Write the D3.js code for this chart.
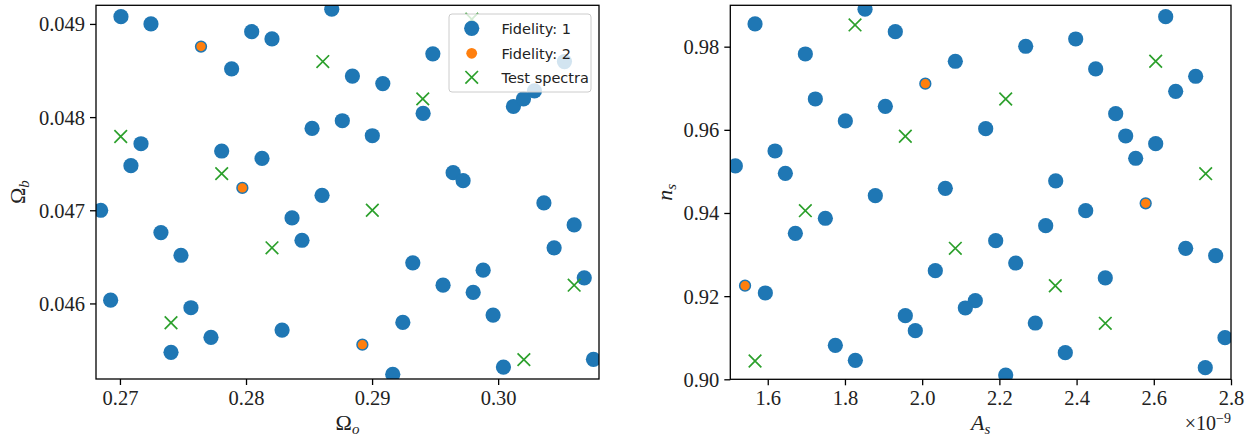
<!DOCTYPE html>
<html><head><meta charset="utf-8">
<script src="https://cdn.jsdelivr.net/npm/d3@7"></script>
<style>body{margin:0;background:#fff}svg{display:block}</style>
</head><body>
<svg id="c" width="1255" height="439"></svg>
<script>
// ---- Left panel data (Omega_o, Omega_b) ----
const leftFid1X = [0.27008,0.27246,0.28045,0.28206,0.27886,0.28680,0.28844,0.29085,0.29482,0.29405,0.28524,0.28764,0.29002,0.30121,0.30201,0.30288,0.30526,0.29643,0.29722,0.28603,0.30363,0.30603,0.27167,0.27087,0.27807,0.28127,0.26847,0.28365,0.27325,0.27484,0.28444,0.26926,0.27563,0.27722,0.27405,0.28286,0.29323,0.29563,0.29802,0.29881,0.29960,0.29244,0.29164,0.30042,0.30444,0.30683,0.30756];
const leftFid1Y = [0.049078,0.049000,0.048917,0.048839,0.048518,0.049158,0.048440,0.048360,0.048679,0.048039,0.047878,0.047961,0.047800,0.048114,0.048196,0.048282,0.048596,0.047404,0.047318,0.047160,0.047079,0.046843,0.047714,0.047479,0.047636,0.047557,0.047000,0.046918,0.046761,0.046517,0.046678,0.046035,0.045954,0.045636,0.045475,0.045714,0.046436,0.046196,0.046118,0.046357,0.045875,0.045796,0.045239,0.045317,0.046597,0.046275,0.045400];
const leftFid2X = [0.27643,0.27971,0.28923];
const leftFid2Y = [0.048757,0.047240,0.045557];
const leftTestX = [0.28609,0.29402,0.27006,0.27807,0.29002,0.28206,0.27405,0.30204,0.30603,0.29791];
const leftTestY = [0.048596,0.048196,0.047792,0.047393,0.047000,0.046597,0.045793,0.045397,0.046196,0.049050];
const leftXTicks = [0.27,0.28,0.29,0.30];
const leftYTicks = [0.046,0.047,0.048,0.049];
const leftXDomain = [0.2681,0.3080];
const leftYDomain = [0.045189,0.04920];

// ---- Right panel data (A_s [1e-9], n_s) ----
const rightFid1X = [1.5671,1.8520,1.9305,1.6974,1.7233,1.9046,1.8010,1.6189,1.5161,1.6456,1.8787,1.7492,2.0600,2.6308,2.3977,2.2682,2.0859,2.4495,2.7085,2.6567,2.5013,2.1646,2.5272,2.6049,2.5531,2.3459,2.4236,2.3200,1.6715,1.5938,2.0341,1.9564,1.9823,1.7751,1.8269,2.1905,2.2423,2.1377,2.1118,2.4744,2.2931,2.3708,2.2164,2.6826,2.7603,2.7844,2.7334];
const rightFid1Y = [0.98546,0.98900,0.98361,0.97824,0.96742,0.96566,0.96213,0.95491,0.95131,0.94955,0.94416,0.93873,0.94594,0.98722,0.98185,0.98010,0.97649,0.97464,0.97288,0.96927,0.96388,0.96028,0.95852,0.95667,0.95316,0.94770,0.94055,0.93695,0.93512,0.92076,0.92612,0.91530,0.91169,0.90818,0.90457,0.93334,0.92797,0.91890,0.91715,0.92437,0.91354,0.90640,0.90103,0.93151,0.92973,0.91001,0.90279];
const rightFid2X = [2.0082,1.5412,2.5790];
const rightFid2Y = [0.97110,0.92251,0.94233];
const rightTestX = [1.8261,1.9564,1.6974,2.6049,2.2164,2.7344,1.5671,2.0859,2.3449,2.4744];
const rightTestY = [0.98522,0.95845,0.94055,0.97649,0.96742,0.94945,0.90440,0.93151,0.92250,0.91347];
const rightXTicks = [1.6,1.8,2.0,2.2,2.4,2.6,2.8];
const rightYTicks = [0.90,0.92,0.94,0.96,0.98];
const rightXDomain = [1.503,2.8];
const rightYDomain = [0.90,0.98995];

const legendLabels = ["Fidelity: 1","Fidelity: 2","Test spectra"];
const C1 = "#1f77b4", C2 = "#ff7f0e", C3 = "#2ca02c";
const SERIF = "Liberation Serif";
const SANS = "DejaVu Sans";

const svg = d3.select("#c");

function xMark(g, cx, cy, h, color, sw){
  g.append("path").attr("d",`M${cx-h},${cy-h}L${cx+h},${cy+h}M${cx-h},${cy+h}L${cx+h},${cy-h}`)
   .attr("stroke",color).attr("stroke-width",sw).attr("fill","none");
}

function panel(o){
  const g = svg.append("g");
  const x = d3.scaleLinear().domain(o.xd).range([o.l,o.r]);
  const y = d3.scaleLinear().domain(o.yd).range([o.b,o.t]);
  const cid = "clip"+o.id;
  svg.append("clipPath").attr("id",cid).append("rect")
    .attr("x",o.l).attr("y",o.t).attr("width",o.r-o.l).attr("height",o.b-o.t);
  const pg = g.append("g").attr("clip-path",`url(#${cid})`);
  o.f1x.forEach((v,i)=>pg.append("circle").attr("cx",x(v)).attr("cy",y(o.f1y[i])).attr("r",7.6).attr("fill",C1));
  o.f2x.forEach((v,i)=>pg.append("circle").attr("cx",x(v)).attr("cy",y(o.f2y[i])).attr("r",5.4).attr("fill",C2).attr("stroke",C1).attr("stroke-width",1.5));
  o.tx.forEach((v,i)=>xMark(pg,x(v),y(o.ty[i]),6.3,C3,1.7));

  const xa = g.append("g").attr("transform",`translate(0,${o.b})`)
    .call(d3.axisBottom(x).tickValues(o.xt).tickSize(6).tickPadding(5).tickFormat(o.xf));
  const ya = g.append("g").attr("transform",`translate(${o.l},0)`)
    .call(d3.axisLeft(y).tickValues(o.yt).tickSize(6).tickPadding(5).tickFormat(o.yf));
  [xa,ya].forEach(a=>{
    a.select(".domain").remove();
    a.selectAll("line").attr("stroke","#000").attr("stroke-width",1.3);
    a.selectAll("text").style("font-family",SERIF).style("font-size","20.5px").attr("fill","#222");
  });
  xa.selectAll("text").attr("dy","0.71em");
  ya.selectAll("text").attr("dy","0.34em");
  g.append("rect").attr("x",o.l).attr("y",o.t).attr("width",o.r-o.l).attr("height",o.b-o.t)
    .attr("fill","none").attr("stroke","#000").attr("stroke-width",1.3);

  const xl = g.append("text").attr("x",(o.l+o.r)/2).attr("y",430).attr("text-anchor","middle")
    .style("font-family",SERIF).style("font-size","22px").attr("fill","#222");
  xl.append("tspan").text(o.xlab[0]).style("font-style",o.xlab[2]?"italic":"normal");
  xl.append("tspan").text(o.xlab[1]).style("font-style","italic").style("font-size","15px").attr("dy",4);
  const yl = g.append("text").attr("transform",`translate(${o.ylx},${(o.t+o.b)/2}) rotate(-90)`).attr("text-anchor","middle")
    .style("font-family",SERIF).style("font-size","22px").attr("fill","#222");
  yl.append("tspan").text(o.ylab[0]).style("font-style",o.ylab[2]?"italic":"normal");
  yl.append("tspan").text(o.ylab[1]).style("font-style","italic").style("font-size","15px").attr("dy",4);
}

panel({id:"L",l:96,r:599,t:5.3,b:379,xd:leftXDomain,yd:leftYDomain,
  f1x:leftFid1X,f1y:leftFid1Y,f2x:leftFid2X,f2y:leftFid2Y,tx:leftTestX,ty:leftTestY,
  xt:leftXTicks,yt:leftYTicks,xf:d3.format(".2f"),yf:d3.format(".3f"),
  xlab:["Ω","o",false],ylab:["Ω","b",false],ylx:25});

panel({id:"R",l:730.3,r:1231,t:5.3,b:379.3,xd:rightXDomain,yd:rightYDomain,
  f1x:rightFid1X,f1y:rightFid1Y,f2x:rightFid2X,f2y:rightFid2Y,tx:rightTestX,ty:rightTestY,
  xt:rightXTicks,yt:rightYTicks,xf:d3.format(".1f"),yf:d3.format(".2f"),
  xlab:["A","s",true],ylab:["n","s",true],ylx:672});

const off = svg.append("text").attr("x",1231).attr("y",430).attr("text-anchor","end")
  .style("font-family",SERIF).style("font-size","20px").attr("fill","#222");
off.append("tspan").text("×10");
off.append("tspan").text("−9").style("font-size","14px").attr("dy",-7);

const lg = svg.append("g");
lg.append("rect").attr("x",449).attr("y",14).attr("width",142).attr("height",78).attr("rx",3)
  .attr("fill","#fff").attr("fill-opacity",0.8).attr("stroke","#cccccc").attr("stroke-width",1);
const rows = [28.3,53.3,77.3];
lg.append("circle").attr("cx",471.7).attr("cy",rows[0]).attr("r",7.6).attr("fill",C1);
lg.append("circle").attr("cx",471.7).attr("cy",rows[1]).attr("r",5.4).attr("fill",C2);
xMark(lg,471.7,rows[2],6.3,C3,1.7);
legendLabels.forEach((t,i)=>lg.append("text").attr("x",501.5).attr("y",rows[i]).attr("dy","0.36em")
  .style("font-family",SANS).style("font-size","14.5px").attr("fill","#222").text(t));
</script>
</body></html>
